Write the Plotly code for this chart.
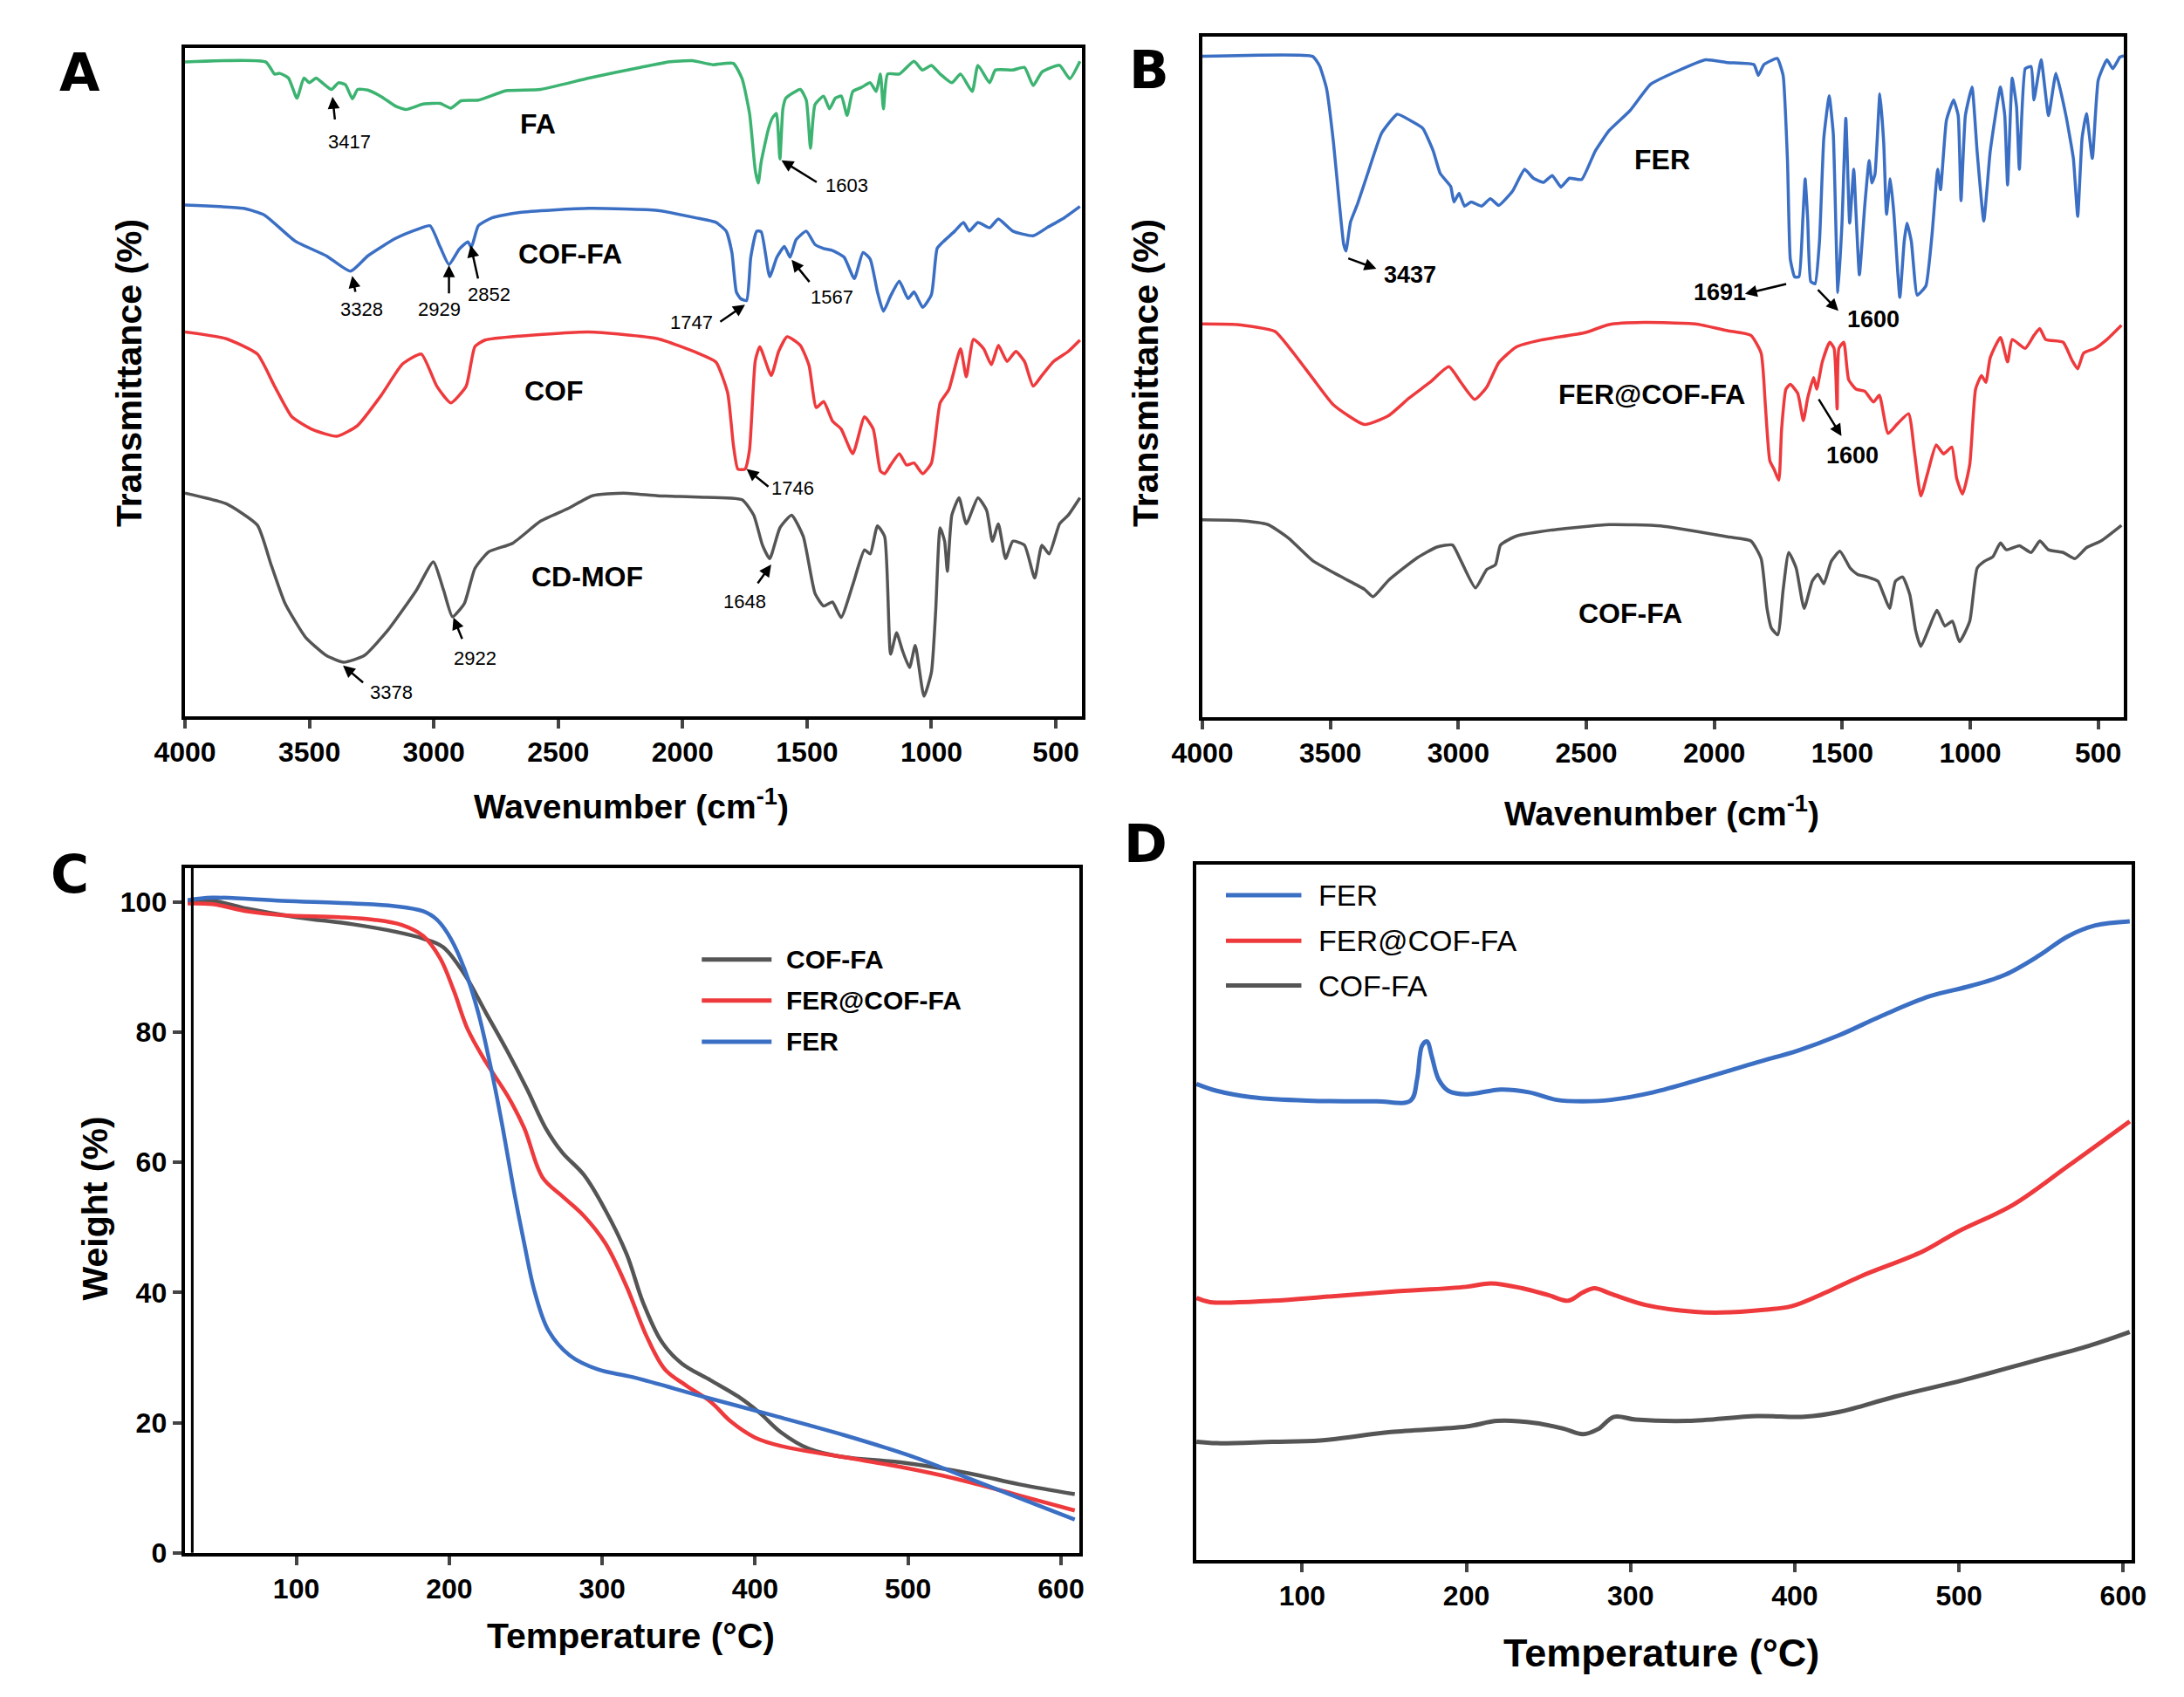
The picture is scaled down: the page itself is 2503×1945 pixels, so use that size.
import plotly.graph_objects as go

FONT = "Liberation Sans, Arial, sans-serif"

# ---------------- data ----------------
# Panel A: FTIR, (wavenumber cm-1, transmittance in arbitrary offset units 0-100)
fa_ir = [(4000, 97.9), (3675, 97.9), (3640, 96.1), (3619, 96.2), (3584, 95.5), (3550, 92.5),
         (3522, 95.5), (3500, 94.8), (3473, 95.5), (3445, 94.7), (3411, 93.8), (3383, 94.8),
         (3355, 94.5), (3327, 92.4), (3306, 93.8), (3265, 93.7), (3210, 92.7), (3154, 91.3),
         (3113, 90.8), (3043, 91.6), (2974, 91.7), (2932, 91.0), (2890, 92.1), (2821, 92.2),
         (2710, 93.6), (2571, 93.8), (2377, 95.5), (2169, 97.1), (2058, 97.9), (1961, 98.1),
         (1878, 97.5), (1796, 97.7), (1761, 95.4), (1731, 90.2), (1708, 81.7), (1696, 79.8),
         (1684, 83.0), (1655, 87.9), (1638, 89.6), (1623, 90.2), (1609, 83.4), (1597, 90.9),
         (1585, 92.5), (1527, 93.8), (1503, 92.2), (1486, 85.0), (1468, 91.5), (1433, 92.8),
         (1410, 90.9), (1386, 92.5), (1362, 92.8), (1339, 89.9), (1316, 93.5), (1281, 94.1),
         (1246, 94.8), (1222, 93.5), (1205, 96.1), (1193, 90.9), (1176, 96.1), (1129, 96.1),
         (1070, 98.0), (1036, 96.7), (1000, 97.4), (965, 96.1), (918, 94.8), (883, 96.1),
         (836, 93.5), (813, 97.4), (766, 94.8), (743, 96.7), (673, 96.7), (626, 97.1),
         (591, 94.4), (556, 96.4), (485, 97.4), (444, 95.4), (403, 98.0)]

coffa_ir = [(4000, 76.5), (3765, 76.0), (3681, 75.0), (3557, 71.1), (3432, 68.9), (3335, 66.6),
            (3265, 68.9), (3154, 71.5), (3071, 72.8), (3015, 73.4), (2974, 70.2), (2939, 67.6),
            (2898, 69.9), (2863, 71.0), (2849, 70.2), (2821, 73.4), (2766, 74.6), (2655, 75.4),
            (2377, 76.0), (2100, 75.7), (1936, 74.5), (1866, 73.9), (1825, 72.6), (1802, 69.4),
            (1784, 63.5), (1767, 62.5), (1743, 62.2), (1726, 68.7), (1702, 72.6), (1684, 72.5),
            (1650, 65.8), (1621, 68.7), (1591, 70.3), (1568, 68.7), (1544, 71.3), (1503, 72.6),
            (1468, 70.6), (1433, 70.0), (1398, 69.7), (1351, 68.7), (1310, 65.5), (1275, 69.4),
            (1246, 68.4), (1217, 63.5), (1193, 60.6), (1164, 62.9), (1129, 65.1), (1094, 62.5),
            (1070, 63.5), (1035, 61.2), (1000, 63.1), (977, 70.0), (953, 71.0), (906, 72.6),
            (871, 73.9), (848, 72.6), (813, 73.9), (766, 73.1), (731, 74.4), (673, 72.6),
            (591, 71.9), (532, 73.2), (474, 74.4), (403, 76.3)]

cof_ir = [(4000, 57.5), (3834, 56.5), (3709, 54.2), (3640, 49.4), (3570, 44.8), (3487, 42.9),
          (3390, 41.9), (3307, 43.5), (3210, 48.1), (3126, 52.7), (3050, 54.2), (2988, 49.4),
          (2932, 46.9), (2870, 49.4), (2835, 55.3), (2794, 56.3), (2655, 56.9), (2377, 57.5),
          (2100, 56.5), (1936, 54.3), (1866, 53.0), (1819, 48.4), (1796, 40.6), (1778, 37.0),
          (1749, 37.0), (1731, 39.9), (1708, 53.2), (1690, 55.3), (1644, 51.0), (1614, 54.6),
          (1580, 56.8), (1527, 55.5), (1492, 52.5), (1463, 46.2), (1433, 47.1), (1398, 44.2),
          (1363, 43.0), (1316, 39.3), (1269, 44.8), (1234, 43.0), (1205, 36.7), (1188, 36.3),
          (1164, 37.6), (1129, 39.3), (1100, 37.6), (1070, 37.9), (1035, 36.3), (1000, 37.9),
          (965, 46.9), (930, 48.9), (883, 55.0), (860, 50.8), (831, 56.4), (790, 55.0),
          (759, 52.6), (731, 55.5), (696, 53.1), (661, 54.6), (626, 53.1), (591, 49.4),
          (556, 51.0), (509, 53.1), (450, 54.6), (403, 56.3)]

cdmof_ir = [(4000, 33.4), (3834, 31.8), (3709, 28.6), (3654, 22.7), (3598, 16.9), (3515, 11.8),
            (3432, 9.1), (3362, 8.1), (3279, 9.1), (3182, 13.0), (3071, 18.8), (3002, 23.1),
            (2960, 18.8), (2925, 14.9), (2877, 16.9), (2835, 22.1), (2780, 24.6), (2683, 25.9),
            (2571, 29.2), (2460, 31.1), (2363, 33.0), (2238, 33.4), (2100, 33.0), (1936, 32.8),
            (1761, 32.4), (1714, 30.1), (1679, 25.6), (1650, 23.6), (1609, 28.2), (1562, 30.1),
            (1515, 26.9), (1468, 18.4), (1433, 16.5), (1398, 17.1), (1363, 14.8), (1316, 19.7),
            (1269, 24.9), (1246, 24.3), (1217, 28.5), (1188, 26.9), (1164, 9.3), (1140, 12.5),
            (1117, 9.9), (1088, 7.3), (1065, 10.6), (1030, 3.0), (1000, 6.6), (983, 15.7),
            (965, 28.2), (947, 26.2), (936, 21.7), (918, 30.1), (889, 32.7), (860, 28.8),
            (813, 32.7), (778, 30.8), (755, 26.2), (731, 28.8), (702, 23.6), (673, 26.2),
            (626, 25.6), (585, 20.7), (556, 25.6), (527, 24.3), (485, 28.8), (450, 30.1),
            (403, 32.7)]

# Panel B: FTIR
fer_ir = [(4000, 97.1), (3569, 97.1), (3542, 95.7), (3515, 92.4), (3488, 84.5), (3468, 76.7),
          (3448, 69.5), (3439, 68.5), (3421, 72.8), (3394, 75.4), (3354, 79.9), (3300, 85.8),
          (3239, 88.6), (3179, 87.5), (3138, 86.5), (3098, 83.2), (3071, 79.9), (3030, 78.0),
          (3017, 75.7), (2997, 77.0), (2976, 75.1), (2950, 75.7), (2909, 75.1), (2875, 76.2),
          (2842, 75.2), (2788, 77.3), (2741, 80.5), (2707, 79.2), (2667, 78.6), (2633, 79.6),
          (2599, 77.9), (2566, 79.2), (2518, 79.0), (2465, 83.2), (2411, 86.2), (2330, 89.1),
          (2249, 93.0), (2141, 95.0), (2033, 96.6), (1948, 96.2), (1845, 95.9), (1828, 94.3),
          (1806, 95.9), (1754, 96.8), (1731, 94.3), (1714, 81.8), (1703, 67.3), (1686, 64.7),
          (1669, 64.7), (1654, 73.2), (1645, 79.1), (1635, 73.2), (1623, 64.0), (1606, 63.7),
          (1589, 69.9), (1572, 85.1), (1551, 91.3), (1535, 85.7), (1517, 62.4), (1501, 72.6),
          (1486, 88.0), (1471, 72.6), (1455, 80.5), (1446, 73.9), (1433, 65.0), (1412, 75.2),
          (1395, 81.8), (1384, 78.5), (1372, 79.8), (1353, 91.6), (1338, 84.4), (1327, 73.9),
          (1312, 79.1), (1298, 73.9), (1275, 61.7), (1258, 69.9), (1247, 72.6), (1230, 69.9),
          (1207, 62.0), (1173, 63.4), (1150, 70.6), (1127, 80.5), (1116, 77.5), (1093, 87.7),
          (1065, 90.7), (1047, 88.4), (1036, 75.9), (1019, 88.4), (993, 92.6), (973, 83.1),
          (947, 72.9), (922, 83.1), (882, 92.6), (865, 88.4), (854, 78.2), (836, 93.9),
          (819, 89.7), (808, 80.5), (785, 95.3), (762, 95.6), (751, 90.7), (723, 96.6),
          (694, 88.4), (665, 94.6), (626, 88.4), (597, 82.1), (580, 73.6), (563, 85.1),
          (546, 88.7), (523, 82.1), (500, 93.6), (466, 96.6), (443, 95.3), (415, 97.0),
          (400, 97.2)]

fer_cof_ir = [(4000, 57.8), (3865, 57.7), (3717, 56.7), (3650, 53.8), (3569, 49.8), (3488, 45.9),
              (3367, 43.0), (3273, 44.3), (3192, 46.9), (3111, 49.2), (3037, 51.5), (2990, 49.2),
              (2936, 46.7), (2889, 48.5), (2842, 52.1), (2774, 54.4), (2680, 55.4), (2505, 56.5),
              (2411, 57.7), (2276, 58.0), (2074, 57.8), (1948, 56.8), (1857, 56.1), (1817, 53.5),
              (1800, 45.6), (1783, 37.7), (1766, 36.4), (1748, 34.8), (1737, 42.3), (1720, 48.2),
              (1703, 48.9), (1674, 47.6), (1652, 43.6), (1635, 46.9), (1612, 49.9), (1600, 48.2),
              (1578, 52.2), (1549, 55.1), (1532, 54.2), (1520, 45.3), (1513, 54.2), (1494, 55.1),
              (1475, 49.6), (1446, 48.2), (1412, 47.9), (1378, 46.3), (1355, 47.3), (1321, 41.7),
              (1287, 43.0), (1241, 44.6), (1218, 39.0), (1193, 32.5), (1167, 35.8), (1133, 40.0),
              (1104, 38.7), (1072, 39.7), (1053, 35.1), (1030, 32.8), (1002, 37.1), (979, 48.2),
              (956, 50.2), (939, 49.2), (922, 52.8), (882, 55.8), (854, 52.2), (836, 55.5),
              (785, 54.2), (751, 56.1), (728, 57.1), (705, 55.5), (637, 55.1), (603, 52.5),
              (580, 51.2), (557, 53.5), (512, 54.2), (466, 55.5), (409, 57.6)]

coffa_ir_b = [(4000, 29.0), (3865, 28.9), (3744, 28.3), (3663, 26.3), (3569, 23.0), (3461, 20.7),
              (3367, 18.8), (3333, 17.7), (3273, 20.1), (3165, 23.3), (3084, 25.0), (3023, 25.3),
              (2990, 23.0), (2933, 19.0), (2889, 21.7), (2855, 22.4), (2835, 25.3), (2774, 26.6),
              (2613, 27.6), (2411, 28.3), (2209, 28.1), (1948, 26.5), (1857, 25.9), (1817, 23.3),
              (1794, 16.0), (1777, 13.1), (1752, 12.1), (1731, 18.7), (1709, 24.2), (1680, 21.9),
              (1649, 16.0), (1617, 20.0), (1595, 21.0), (1572, 19.6), (1543, 22.9), (1509, 24.4),
              (1469, 21.9), (1441, 21.0), (1401, 20.6), (1361, 20.0), (1338, 18.0), (1315, 16.0),
              (1292, 20.0), (1264, 20.6), (1236, 18.0), (1213, 12.7), (1193, 10.4), (1161, 13.1),
              (1130, 15.7), (1099, 13.4), (1070, 14.1), (1042, 11.1), (1002, 14.1), (973, 21.9),
              (945, 22.9), (911, 23.6), (882, 25.6), (859, 24.6), (808, 25.2), (762, 24.2),
              (728, 25.9), (694, 24.6), (637, 24.2), (591, 23.3), (546, 24.9), (489, 25.9),
              (409, 28.2)]

# Panel C: TGA, (temperature C, weight %)
coffa_tga = [(29, 100.0), (45, 100.2), (68, 99.0), (100, 97.7), (137, 96.6), (164, 95.5),
             (183, 94.4), (196, 93.1), (210, 88.9), (224, 83.0), (238, 77.1), (251, 71.2),
             (263, 65.3), (274, 61.5), (288, 58.1), (302, 52.7), (316, 45.9), (327, 38.3),
             (339, 32.4), (352, 29.1), (371, 26.5), (389, 24.0), (403, 21.5), (417, 18.5),
             (435, 16.0), (458, 14.7), (495, 13.9), (540, 12.2), (573, 10.5), (609, 9.0)]

fer_cof_tga = [(29, 99.8), (45, 99.7), (68, 98.6), (91, 98.0), (128, 97.7), (151, 97.3),
               (169, 96.5), (183, 94.8), (194, 91.4), (203, 86.4), (212, 80.5), (224, 75.4),
               (238, 70.3), (249, 65.3), (261, 57.7), (274, 54.8), (288, 51.8), (302, 47.6),
               (316, 40.9), (329, 33.3), (341, 28.2), (355, 25.7), (371, 23.2), (384, 20.2),
               (400, 17.7), (417, 16.4), (458, 14.7), (495, 13.2), (531, 11.4), (573, 8.8),
               (609, 6.5)]

fer_tga = [(29, 100.3), (45, 100.7), (91, 100.2), (137, 99.8), (164, 99.4), (183, 98.6),
           (192, 97.3), (201, 94.4), (210, 89.7), (219, 83.0), (228, 73.7), (235, 65.3),
           (242, 56.0), (249, 47.6), (256, 40.0), (265, 34.1), (279, 30.3), (297, 28.2),
           (320, 27.0), (366, 24.0), (412, 21.1), (458, 18.1), (504, 14.7), (540, 11.4),
           (573, 8.4), (609, 5.1)]

# Panel D: DSC, (temperature C, heat flow in arbitrary offset units 0-100)
fer_dsc = [(35.6, 68.5), (48, 67.5), (69, 66.6), (103, 66.1), (145, 66.0), (166, 66.1),
           (170, 69.2), (173, 74.0), (176, 74.6), (179, 72.4), (183, 69.2), (189, 67.5),
           (200, 67.0), (221, 67.7), (238, 67.3), (255, 66.2), (271, 66.0), (288, 66.2),
           (314, 67.3), (343, 69.2), (377, 71.6), (402, 73.3), (427, 75.5), (453, 78.3),
           (482, 81.1), (507, 82.6), (528, 84.2), (549, 87.0), (566, 89.7), (583, 91.3),
           (604, 91.9)]

fer_cof_dsc = [(35.6, 37.7), (44, 37.1), (82, 37.3), (116, 37.9), (154, 38.6), (200, 39.3),
               (215, 39.8), (234, 39.1), (250, 38.1), (262, 37.3), (271, 38.5), (278, 39.1),
               (288, 38.3), (309, 36.7), (339, 35.7), (356, 35.6), (381, 36.0), (398, 36.5),
               (419, 38.5), (440, 40.8), (478, 44.4), (499, 47.2), (533, 51.1), (566, 56.6),
               (604, 63.1)]

coffa_dsc = [(35.6, 17.0), (48, 16.8), (82, 17.0), (111, 17.2), (154, 18.4), (200, 19.2),
             (219, 20.0), (242, 19.7), (259, 18.9), (271, 18.1), (280, 18.8), (290, 20.6),
             (303, 20.2), (335, 20.0), (377, 20.7), (406, 20.6), (427, 21.3), (461, 23.5),
             (503, 25.9), (545, 28.6), (579, 30.8), (604, 32.8)]

ir_ticks = [4000, 3500, 3000, 2500, 2000, 1500, 1000, 500]
temp_ticks = [100, 200, 300, 400, 500, 600]
weight_ticks = [0, 20, 40, 60, 80, 100]

GREEN = "#3cb371"
BLUE = "#3b6fc4"
RED = "#ee3a3d"
GRAY = "#555555"

W, H = 2503, 1945
PAGE_OFFSET = 8  # default body margin of the html page


def px_x(x):
    return (x - PAGE_OFFSET) / W


def px_y(y):
    return 1 - (y - PAGE_OFFSET) / H


def dom_x(x0, x1):
    return [px_x(x0), px_x(x1)]


def dom_y(top, bottom):
    return [px_y(bottom), px_y(top)]


fig = go.Figure()


def add_series(pairs, color, xa, ya, width=3.5, smoothing=0.5):
    fig.add_trace(go.Scatter(
        x=[p[0] for p in pairs],
        y=[p[1] for p in pairs],
        mode="lines",
        line=dict(color=color, width=width, shape="spline", smoothing=smoothing),
        xaxis=xa, yaxis=ya,
        showlegend=False,
        hoverinfo="skip",
    ))


add_series(fa_ir, GREEN, "x", "y")
add_series(coffa_ir, BLUE, "x", "y")
add_series(cof_ir, RED, "x", "y")
add_series(cdmof_ir, GRAY, "x", "y")

add_series(fer_ir, BLUE, "x2", "y2", smoothing=0.4)
add_series(fer_cof_ir, RED, "x2", "y2")
add_series(coffa_ir_b, GRAY, "x2", "y2")

add_series(coffa_tga, GRAY, "x3", "y3", 4.5, 1.0)
add_series(fer_cof_tga, RED, "x3", "y3", 4.5, 1.0)
add_series(fer_tga, BLUE, "x3", "y3", 4.5, 1.0)

add_series(fer_dsc, BLUE, "x4", "y4", 5, 1.0)
add_series(fer_cof_dsc, RED, "x4", "y4", 5, 1.0)
add_series(coffa_dsc, GRAY, "x4", "y4", 5, 1.0)

tickfont = dict(family=FONT, size=32, color="black", weight="bold")
box = dict(showline=True, mirror=True, linecolor="black", linewidth=4,
           showgrid=False, zeroline=False, automargin=False)

fig.update_layout(
    width=W, height=H,
    margin=dict(l=0, r=0, t=0, b=0),
    paper_bgcolor="white", plot_bgcolor="white",
    showlegend=False,
    xaxis=dict(domain=dom_x(212, 1240), range=[4000, 395], anchor="y",
               tickvals=ir_ticks, ticks="outside", ticklen=10, tickwidth=4,
               tickfont=tickfont, **box),
    yaxis=dict(domain=dom_y(55, 821), range=[0, 100], anchor="x",
               showticklabels=False, ticks="", **box),
    xaxis2=dict(domain=dom_x(1378, 2434), range=[4000, 400], anchor="y2",
                tickvals=ir_ticks, ticks="outside", ticklen=10, tickwidth=4,
                tickfont=tickfont, **box),
    yaxis2=dict(domain=dom_y(42, 822), range=[0, 100], anchor="x2",
                showticklabels=False, ticks="", **box),
    xaxis3=dict(domain=dom_x(211.6, 1237), range=[27, 612], anchor="y3",
                tickvals=temp_ticks, ticks="outside", ticklen=10, tickwidth=4,
                tickfont=tickfont, **box),
    yaxis3=dict(domain=dom_y(994.5, 1779.7), range=[0, 105.3], anchor="x3",
                tickvals=weight_ticks, ticks="outside", ticklen=10, tickwidth=4,
                tickfont=tickfont, **box),
    xaxis4=dict(domain=dom_x(1371, 2442.7), range=[35.5, 605], anchor="y4",
                tickvals=temp_ticks, ticks="outside", ticklen=10, tickwidth=4,
                tickfont=tickfont, **box),
    yaxis4=dict(domain=dom_y(991.4, 1787.9), range=[0, 100], anchor="x4",
                showticklabels=False, ticks="", **box),
)

# second frame line on the left side of panel C
fig.add_shape(type="line", xref="x3", yref="y3 domain", x0=32, x1=32, y0=0, y1=1,
              line=dict(color="black", width=3))

annotations = []


def text(x, y, s, size, xref="paper", yref="paper", bold=True, angle=0,
         xanchor="center", yanchor="middle", family=FONT):
    annotations.append(dict(
        x=x, y=y, xref=xref, yref=yref, text=f"<b>{s}</b>" if bold else s,
        showarrow=False, textangle=angle, xanchor=xanchor, yanchor=yanchor,
        font=dict(family=family, size=size, color="black"),
    ))


def arrow(xa, ya, tail, head, width=2.5):
    annotations.append(dict(
        x=head[0], y=head[1], ax=tail[0], ay=tail[1],
        xref=xa, yref=ya, axref=xa, ayref=ya, text="",
        showarrow=True, arrowhead=2, arrowsize=1.1, arrowwidth=width,
        arrowcolor="black",
    ))


# panel A peak labels
peaks_a = [
    ("3417", (3338, 86.0), (3397, 89.1), (3407, 92.7)),
    ("1603", (1339, 79.4), (1456, 79.8), (1603, 83.2)),
    ("3328", (3289, 60.9), (3314, 63.3), (3328, 65.9)),
    ("2929", (2978, 60.9), (2939, 63.1), (2939, 67.5)),
    ("2852", (2777, 63.1), (2821, 65.3), (2852, 70.5)),
    ("1747", (1965, 58.9), (1854, 58.9), (1749, 61.6)),
    ("1567", (1401, 62.7), (1486, 64.8), (1562, 68.3)),
    ("1746", (1556, 34.2), (1650, 34.2), (1743, 37.0)),
    ("3378", (3171, 3.6), (3279, 4.9), (3365, 7.6)),
    ("2922", (2835, 8.7), (2884, 11.4), (2921, 14.8)),
    ("1648", (1749, 17.2), (1702, 19.7), (1644, 22.7)),
]
for lab, pos, tail, head in peaks_a:
    arrow("x", "y", tail, head)
    text(pos[0], pos[1], lab, 22, "x", "y", bold=False)

for lab, x, y in [("FA", 2583, 88.6), ("COF-FA", 2453, 69.2),
                  ("COF", 2516, 48.7), ("CD-MOF", 2384, 20.9)]:
    text(x, y, lab, 32, "x", "y")

# panel B peak labels
peaks_b = [
    ("3437", (3190, 65.0), (3435, 67.5), (3320, 65.9)),
    ("1691", (1977, 62.4), (1714, 63.7), (1880, 62.2)),
    ("1600", (1378, 58.4), (1600, 63.0), (1515, 59.7)),
    ("1600", (1461, 38.4), (1595, 46.9), (1503, 41.3)),
]
for lab, pos, tail, head in peaks_b:
    arrow("x2", "y2", tail, head)
    text(pos[0], pos[1], lab, 27, "x2", "y2")

for lab, x, y in [("FER", 2202, 81.9), ("FER@COF-FA", 2243, 47.4), ("COF-FA", 2327, 15.3)]:
    text(x, y, lab, 32, "x2", "y2")

# axis titles (positions in reference pixels)
text(px_x(723), px_y(921), "Wavenumber (cm<sup>-1</sup>)", 39)
text(px_x(1904), px_y(929), "Wavenumber (cm<sup>-1</sup>)", 39)
text(px_x(148), px_y(428), "Transmittance (%)", 41, angle=-90)
text(px_x(1313), px_y(428), "Transmittance (%)", 41, angle=-90)
text(px_x(108.5), px_y(1385), "Weight (%)", 41, angle=-90)
text(px_x(723), px_y(1875), "Temperature (°C)", 41)
text(px_x(1904), px_y(1894), "Temperature (°C)", 45)

# panel letters
for lab, x, y in [("A", 91, 83), ("B", 1317, 80), ("C", 80, 1002), ("D", 1313, 967)]:
    text(px_x(x), px_y(y), lab, 60, family="DejaVu Sans")

# legends drawn as line samples + labels
legend_c = [("COF-FA", GRAY, 0.866), ("FER@COF-FA", RED, 0.806), ("FER", BLUE, 0.746)]
for lab, col, yy in legend_c:
    fig.add_shape(type="line", xref="x3 domain", yref="y3 domain", x0=0.578, x1=0.656,
                  y0=yy, y1=yy, line=dict(color=col, width=5))
    text(0.670, yy, lab, 30, "x3 domain", "y3 domain", xanchor="left")

legend_d = [("FER", BLUE, 0.9566), ("FER@COF-FA", RED, 0.891), ("COF-FA", GRAY, 0.8265)]
for lab, col, yy in legend_d:
    fig.add_shape(type="line", xref="x4 domain", yref="y4 domain", x0=0.0317, x1=0.1124,
                  y0=yy, y1=yy, line=dict(color=col, width=5))
    text(0.129, yy, lab, 34, "x4 domain", "y4 domain", bold=False, xanchor="left")

fig.update_layout(annotations=annotations)

fig.write_html("out.html")
